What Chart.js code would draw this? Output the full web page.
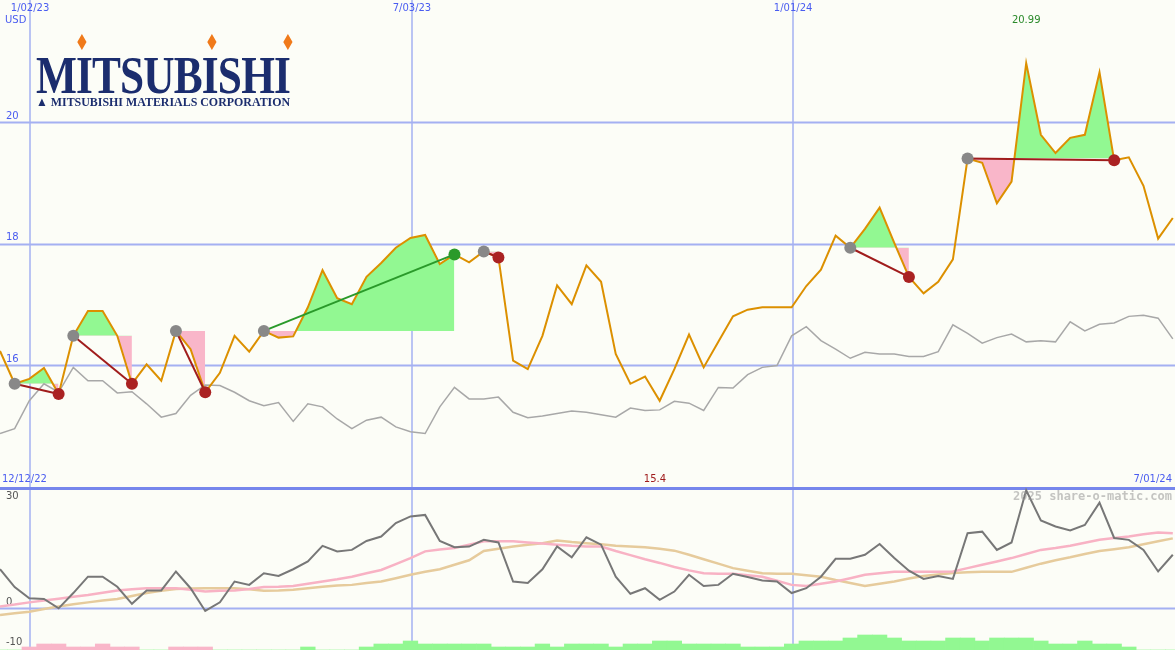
<!DOCTYPE html>
<html>
<head>
<meta charset="utf-8">
<script src="https://cdn.jsdelivr.net/npm/chart.js@4/dist/chart.umd.min.js"></script>
<style>
  body { margin: 0; background: #fcfdf7; }
  #wrap { position: relative; width: 1175px; height: 650px; overflow: hidden; background: #fcfdf7; }
  #top { position: absolute; left: 0; top: 0; }
  #bot { position: absolute; left: 0; top: 487px; }
  .logo { position: absolute; font-family: "Liberation Serif", serif; font-weight: bold; color: #1b2d6e; white-space: nowrap; transform-origin: 0 0; }
  .dia { position: absolute; color: #f07a1a; font-size: 22px; font-family: "DejaVu Sans"; transform: scaleX(0.75); }
</style>
</head>
<body>
<div id="wrap">
  <canvas id="top" width="1175" height="487"></canvas>
  <canvas id="bot" width="1175" height="163"></canvas>
  <div class="logo" id="logoBig" style="left:36px;top:46px;font-size:52px;letter-spacing:-1px;">MITSUBISHI</div>
  <div class="dia" style="left:72px;top:30px;">&#9830;</div>
  <div class="dia" style="left:202px;top:30px;">&#9830;</div>
  <div class="dia" style="left:278px;top:30px;">&#9830;</div>
  <div class="logo" id="logoSmall" style="left:36px;top:94px;font-size:13px;">&#9650; MITSUBISHI MATERIALS CORPORATION</div>
</div>
<script>
// Weekly data, index 0 = 12/12/22
const price = [16.23, 15.69, 15.77, 15.95, 15.52, 16.48, 16.89, 16.89, 16.48, 15.69,
    16.01, 15.74, 16.56, 16.26, 15.55, 15.87, 16.48, 16.22, 16.56, 16.45,
    16.47, 16.95, 17.56, 17.10, 17.00, 17.45, 17.68, 17.93, 18.09, 18.14,
    17.66, 17.82, 17.69, 17.87, 17.77, 16.07, 15.93, 16.48, 17.31, 17.00,
    17.64, 17.37, 16.18, 15.69, 15.81, 15.41, 15.93, 16.50, 15.96, 16.38,
    16.80, 16.91, 16.95, 16.95, 16.95, 17.30, 17.57, 18.13, 17.93, 18.24,
    18.59, 18.01, 17.45, 17.18, 17.37, 17.74, 19.40, 19.33, 18.66, 19.02,
    20.97, 19.79, 19.49, 19.74, 19.79, 20.82, 19.37, 19.42, 18.95, 18.08, 18.42]
const index = [14.87, 14.95, 15.41, 15.69, 15.55, 15.96, 15.74, 15.74, 15.54, 15.56,
    15.36, 15.14, 15.20, 15.50, 15.67, 15.66, 15.55, 15.41, 15.33, 15.38,
    15.07, 15.36, 15.31, 15.11, 14.95, 15.09, 15.14, 14.98, 14.90, 14.87,
    15.31, 15.63, 15.44, 15.44, 15.47, 15.22, 15.13, 15.16, 15.20, 15.24,
    15.22, 15.18, 15.14, 15.29, 15.25, 15.26, 15.40, 15.37, 15.25, 15.63,
    15.62, 15.84, 15.96, 15.99, 16.48, 16.63, 16.40, 16.26, 16.11, 16.21,
    16.18, 16.18, 16.14, 16.14, 16.22, 16.66, 16.52, 16.36, 16.45, 16.51,
    16.38, 16.40, 16.38, 16.71, 16.56, 16.67, 16.69, 16.80, 16.82, 16.77, 16.43]
const osc = [10.3, 5.5, 2.5, 2.3, -0.2, 3.9, 8.3, 8.3, 5.6, 1.0,
    4.6, 4.6, 9.7, 5.2, -0.9, 1.4, 7.0, 6.1, 9.2, 8.5,
    10.3, 12.4, 16.6, 15.1, 15.5, 17.9, 19.1, 22.7, 24.5, 24.9,
    17.9, 16.2, 16.4, 18.2, 17.5, 7.0, 6.6, 10.3, 16.4, 13.5,
    18.9, 16.9, 8.3, 3.7, 5.2, 2.1, 4.3, 8.8, 5.8, 6.1,
    9.1, 8.2, 7.3, 7.0, 3.9, 5.2, 8.3, 13.1, 13.1, 14.2,
    17.1, 13.3, 9.9, 7.7, 8.5, 7.7, 20.0, 20.4, 15.5, 17.5,
    31.5, 23.4, 21.8, 20.7, 22.2, 28.2, 18.7, 18.2, 15.5, 9.7, 14.2]
const oscFast = [0.3, 0.8, 1.4, 1.9, 2.4, 2.9, 3.4, 4.0, 4.6, 4.9,
    5.2, 5.2, 5.2, 4.8, 4.3, 4.5, 4.6, 5.0, 5.5, 5.6,
    5.8, 6.4, 7.0, 7.6, 8.3, 9.2, 10.1, 11.7, 13.3, 15.1,
    15.6, 16.0, 16.9, 17.8, 17.8, 17.8, 17.5, 17.2, 16.9, 16.6,
    16.4, 16.4, 15.2, 14.1, 13.0, 12.0, 10.9, 10.0, 9.2, 9.1,
    9.1, 8.7, 8.3, 7.2, 6.1, 5.8, 6.4, 7.0, 7.9, 8.8,
    9.2, 9.6, 9.6, 9.6, 9.6, 9.7, 10.6, 11.5, 12.4, 13.3,
    14.4, 15.5, 16.0, 16.6, 17.4, 18.2, 18.7, 19.1, 19.7, 20.2, 20.0]
const oscSlow = [-2.0, -1.5, -1.1, -0.4, 0.3, 0.9, 1.4, 1.9, 2.3, 3.1,
    3.9, 4.5, 5.0, 5.1, 5.2, 5.2, 5.2, 4.9, 4.5, 4.6,
    4.8, 5.2, 5.6, 5.9, 6.1, 6.6, 7.0, 7.9, 8.8, 9.6,
    10.3, 11.5, 12.7, 15.2, 15.8, 16.4, 16.9, 17.3, 18.0, 17.6,
    17.3, 17.0, 16.6, 16.4, 16.2, 15.8, 15.3, 14.2, 13.0, 11.8,
    10.6, 9.9, 9.2, 9.1, 9.1, 8.7, 8.3, 7.4, 6.6, 5.8,
    6.4, 7.0, 7.8, 8.5, 8.9, 9.3, 9.5, 9.6, 9.6, 9.6,
    10.7, 11.8, 12.7, 13.5, 14.4, 15.2, 15.7, 16.2, 17.0, 17.8, 18.6]
// signed activity bars: negative = pink, positive = green
const bars = [0, 0, -3, -6, -6, -3, -3, -6, -3, -3,
    0, 0, -3, -3, -3, 0, 0, 0, 0, 0,
    0, 3, 0, 0, 0, 3, 6, 6, 9, 6,
    6, 6, 6, 6, 3, 3, 3, 6, 3, 6,
    6, 6, 3, 6, 6, 9, 9, 6, 6, 6,
    6, 3, 3, 3, 6, 9, 9, 9, 12, 15,
    15, 12, 9, 9, 9, 12, 12, 9, 12, 12,
    12, 9, 6, 6, 9, 6, 6, 3, 0, 0, 0]
// trades: [start index, end index, win]
const trades = [[1, 4, false], [5, 9, false], [12, 14, false], [18, 31, true],
    [33, 34, false], [58, 62, false], [66, 76, false]]
const dateLines = [2.05, 28.1, 54.1]
const dateLabels = ['1/02/23', '7/03/23', '1/01/24']
const priceTicks = [16, 18, 20]
const oscTicks = [30, 0, -10]

const XMAX = 80.15
const BLUE = '#4a5cf0'
const GRID = '#a4b0f2'

let pts = arr => arr.map((v, i) => ({ x: i, y: v }))

// grid + labels plugin, drawn under the data
const gridPlugin = {
    id: 'grid',
    beforeDatasetsDraw (chart, args, opts) {
        const ctx = chart.ctx
        const xs = chart.scales.x, ys = chart.scales.y
        ctx.save()
        ctx.strokeStyle = GRID
        ctx.lineWidth = 2
        for (const v of opts.hLines) {
            let y = Math.round(ys.getPixelForValue(v)) + 0.5
            ctx.beginPath(); ctx.moveTo(0, y); ctx.lineTo(chart.width, y); ctx.stroke()
        }
        ctx.lineWidth = 1.5
        for (const v of dateLines) {
            let x = Math.round(xs.getPixelForValue(v))
            ctx.beginPath(); ctx.moveTo(x, 0); ctx.lineTo(x, chart.height); ctx.stroke()
        }
        ctx.font = '10px "DejaVu Sans"'
        ctx.textBaseline = 'middle'
        for (const t of opts.texts) {
            ctx.fillStyle = t.c
            ctx.textAlign = t.a || 'left'
            let x = t.xv !== undefined ? xs.getPixelForValue(t.xv) : t.x
            let y = t.yv !== undefined ? ys.getPixelForValue(t.yv) + t.dy : t.y
            ctx.fillText(t.s, x, y)
        }
        if (opts.border) {
            ctx.strokeStyle = '#7686ec'
            ctx.lineWidth = 3
            ctx.beginPath(); ctx.moveTo(0, 1.5); ctx.lineTo(chart.width, 1.5); ctx.stroke()
        }
        ctx.restore()
    }
}

// ---- top panel ----
let topSets = [{
    data: pts(price), borderColor: '#dc9000', borderWidth: 2, pointRadius: 0, order: 1
}, {
    data: pts(index), borderColor: '#a8a8a8', borderWidth: 1.5, pointRadius: 0, order: 2
}]
for (const [s, e, win] of trades) {
    let base = price[s]
    topSets.push({
        data: pts(price).slice(s, e + 1), borderWidth: 0, pointRadius: 0, order: 5,
        fill: { target: { value: base }, above: '#92f892', below: '#f9b6c9' }
    })
    topSets.push({
        data: [{ x: s, y: price[s] }, { x: e, y: price[e] }],
        borderColor: win ? '#2a9a2a' : '#a01c1c', borderWidth: 2, order: 0,
        pointRadius: 6, pointBorderWidth: 0,
        pointBackgroundColor: ['#888888', win ? '#2a9a2a' : '#aa2222']
    })
}
let topTexts = [{ s: 'USD', x: 5, y: 20, c: BLUE }]
dateLabels.forEach((s, i) => topTexts.push({ s: s, xv: dateLines[i], y: 8, c: BLUE, a: 'center' }))
priceTicks.forEach(v => topTexts.push({ s: String(v), x: 6, yv: v, dy: -6, c: BLUE }))
topTexts.push({ s: '20.99', xv: 70, y: 20, c: '#2a8a2a', a: 'center' })
topTexts.push({ s: '15.4', x: 655, y: 479, c: '#a01c1c', a: 'center' })
topTexts.push({ s: '12/12/22', x: 2, y: 479, c: BLUE })
topTexts.push({ s: '7/01/24', x: 1172, y: 479, c: BLUE, a: 'right' })

new Chart(document.getElementById('top'), {
    type: 'line',
    data: { datasets: topSets },
    options: {
        responsive: false, animation: false,
        layout: { padding: 0, autoPadding: false },
        elements: { line: { tension: 0 } },
        scales: {
            x: { type: 'linear', min: 0, max: XMAX, display: false },
            y: { min: 13.99, max: 22.01, display: false }
        },
        plugins: {
            legend: { display: false }, tooltip: { enabled: false },
            grid: { hLines: priceTicks, texts: topTexts }
        }
    },
    plugins: [gridPlugin]
})

// ---- bottom panel ----
let botTexts = []
const oscLabelY = [9, 115, 155]
oscTicks.forEach((v, i) => botTexts.push({ s: String(v), x: 6, y: oscLabelY[i], c: '#555' }))
new Chart(document.getElementById('bot'), {
    type: 'line',
    data: {
        datasets: [{
            data: pts(osc), borderColor: '#777', borderWidth: 2, pointRadius: 0, order: 1
        }, {
            data: pts(oscFast), borderColor: '#f8b2c4', borderWidth: 2.5, pointRadius: 0, order: 2
        }, {
            data: pts(oscSlow), borderColor: '#e6cb9c', borderWidth: 2.5, pointRadius: 0, order: 3
        }, {
            type: 'bar', yAxisID: 'v', order: 4,
            data: bars.map((v, i) => ({ x: i, y: Math.abs(v) })),
            backgroundColor: bars.map(v => v < 0 ? '#f9b6c9' : '#92f892'),
            barPercentage: 1, categoryPercentage: 1
        }]
    },
    options: {
        responsive: false, animation: false,
        layout: { padding: 0, autoPadding: false },
        scales: {
            x: { type: 'linear', min: 0, max: XMAX, display: false, offset: false },
            y: { min: -11.4, max: 32.4, display: false },
            v: { min: 0, max: 163, display: false }
        },
        plugins: {
            legend: { display: false }, tooltip: { enabled: false },
            grid: { hLines: [0], texts: botTexts, border: true }
        }
    },
    plugins: [gridPlugin, {
        id: 'mark',
        afterDraw (chart) {
            const ctx = chart.ctx
            ctx.save()
            ctx.font = 'bold 12px "DejaVu Sans Mono"'
            ctx.fillStyle = 'rgba(150,150,150,0.55)'
            ctx.textAlign = 'right'
            ctx.textBaseline = 'middle'
            ctx.fillText('2025 share-o-matic.com', 1172, 10)
            ctx.restore()
        }
    }]
})

// squeeze logo text to its box
function fit (id, w) {
    let el = document.getElementById(id)
    el.style.transform = 'scaleX(' + (w / el.offsetWidth) + ')'
}
fit('logoBig', 254)
fit('logoSmall', 254)
</script>
</body>
</html>
